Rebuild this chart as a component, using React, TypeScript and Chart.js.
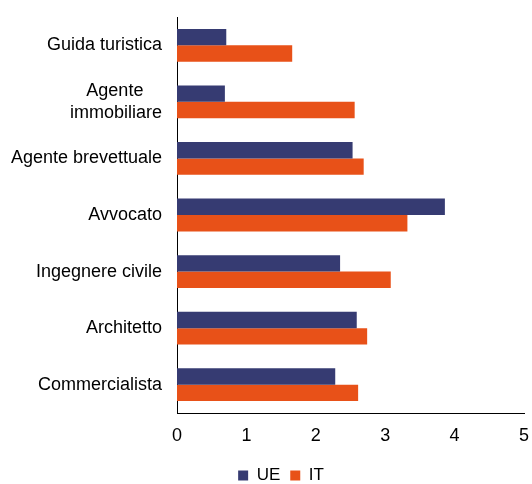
import React, { useEffect, useRef } from "react";
import { Chart, registerables } from "chart.js";

Chart.register(...registerables);

const categories: (string | string[])[] = [
  "Guida turistica",
  ["Agente   \u2009", "immobiliare"],
  "Agente brevettuale",
  "Avvocato",
  "Ingegnere civile",
  "Architetto",
  "Commercialista",
];
const ueValues = [0.71, 0.69, 2.53, 3.86, 2.35, 2.59, 2.28];
const itValues = [1.66, 2.56, 2.69, 3.32, 3.08, 2.74, 2.61];
const xTicks = [0, 1, 2, 3, 4, 5];

const legendShift = {
  id: "legendShift",
  afterLayout(chart: any) {
    if (chart.legend) chart.legend.left += 30;
  },
};

export default function App() {
  const ref = useRef<HTMLCanvasElement | null>(null);
  useEffect(() => {
    document.body.style.margin = "0";
    if (!ref.current) return;
    const family = "'Liberation Sans', Arial, sans-serif";
    const font = { family, size: 18 };
    const chart = new Chart(ref.current, {
      type: "bar",
      data: {
        labels: categories,
        datasets: [
          { label: "UE", data: ueValues, backgroundColor: "#363b72", categoryPercentage: 0.58, barPercentage: 1 },
          { label: "IT", data: itValues, backgroundColor: "#e85118", categoryPercentage: 0.58, barPercentage: 1 },
        ],
      },
      plugins: [legendShift],
      options: {
        indexAxis: "y",
        animation: false,
        responsive: false,
        maintainAspectRatio: false,
        layout: { padding: { top: 17, right: 0, left: 0, bottom: -10 } },
        scales: {
          x: {
            min: 0,
            max: 5,
            afterBuildTicks: (s: any) => {
              s.ticks = xTicks.map((v) => ({ value: v }));
            },
            afterFit: (s: any) => {
              s.height = 44;
              s.paddingLeft = 0;
              s.paddingRight = 8;
            },
            grid: { display: false, drawTicks: false },
            border: { display: true, color: "#000", width: 1 },
            ticks: { color: "#000", font, padding: 12, maxRotation: 0 },
          },
          y: {
            grid: { display: false, drawTicks: false },
            border: { display: true, color: "#000", width: 1 },
            ticks: { color: "#000", font, padding: 15, autoSkip: false },
            afterFit: (s: any) => {
              s.width = 177;
              s.paddingTop = 0;
              s.paddingBottom = 0;
            },
          },
        },
        plugins: {
          legend: {
            position: "bottom",
            labels: { boxWidth: 10, boxHeight: 10, color: "#000", font: { family, size: 17 }, padding: 10 },
          },
          tooltip: { enabled: false },
        },
      },
    });
    return () => chart.destroy();
  }, []);
  return (
    <div style={{ width: 532, height: 484 }}>
      <canvas ref={ref} width={532} height={484} style={{ width: 532, height: 484 }} />
    </div>
  );
}
